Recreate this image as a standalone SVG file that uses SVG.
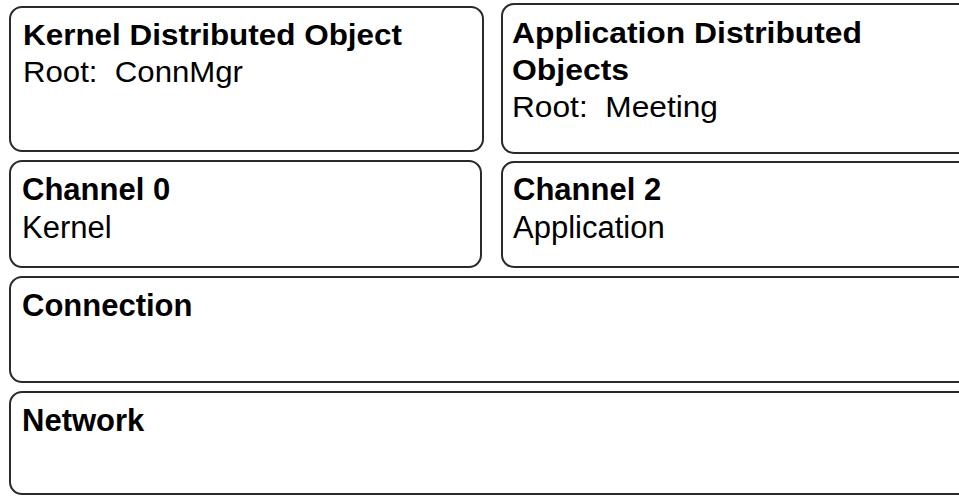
<svg xmlns="http://www.w3.org/2000/svg" width="959" height="496" viewBox="0 0 959 496">
<style>
.box{fill:#fff;stroke:#2a2a2a;stroke-width:2}
.t{font-family:"Liberation Sans",Arial,sans-serif;fill:#000;white-space:pre}
.b{font-weight:bold}
.top{font-size:29px}
.low{font-size:31px}
</style>
<rect width="959" height="496" fill="#fff"/>
<g id="kernel-object">
<rect class="box" x="10" y="7" width="473" height="144" rx="12"/>
<text class="t b top" x="23" y="45" textLength="379" lengthAdjust="spacingAndGlyphs">Kernel Distributed Object</text>
<text class="t top" x="23" y="82" textLength="220" lengthAdjust="spacingAndGlyphs" xml:space="preserve">Root:  ConnMgr</text>
</g>
<g id="app-objects">
<rect class="box" x="502" y="4" width="480" height="149" rx="12"/>
<text class="t b top" x="512" y="43" textLength="350" lengthAdjust="spacingAndGlyphs">Application Distributed</text>
<text class="t b top" x="512" y="80" textLength="117" lengthAdjust="spacingAndGlyphs">Objects</text>
<text class="t top" x="512" y="117" textLength="206" lengthAdjust="spacingAndGlyphs" xml:space="preserve">Root:  Meeting</text>
</g>
<g id="channel0">
<rect class="box" x="10" y="161" width="471" height="106" rx="12"/>
<text class="t b low" x="22" y="200">Channel 0</text>
<text class="t low" x="22" y="238">Kernel</text>
</g>
<g id="channel2">
<rect class="box" x="502" y="162" width="480" height="105" rx="12"/>
<text class="t b low" x="513" y="200">Channel 2</text>
<text class="t low" x="513" y="238">Application</text>
</g>
<g id="connection">
<rect class="box" x="10" y="277" width="972" height="105" rx="12"/>
<text class="t b low" x="22" y="316">Connection</text>
</g>
<g id="network">
<rect class="box" x="10" y="392" width="972" height="102" rx="12"/>
<text class="t b low" x="22" y="431">Network</text>
</g>
<g id="connectors"></g>
</svg>
